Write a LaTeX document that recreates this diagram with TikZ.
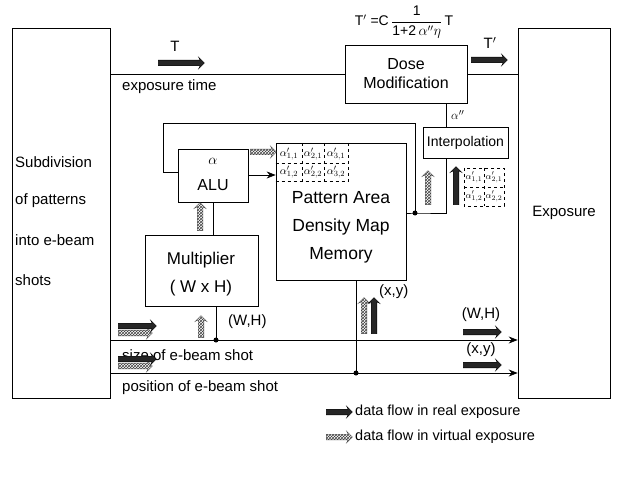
\documentclass[tikz,border=0pt]{standalone}
\usepackage{fontspec}
\setmainfont{Liberation Sans}
\usetikzlibrary{shapes.arrows,patterns,arrows.meta}
\begin{document}
\begin{tikzpicture}[x=1pt,y=-1pt,
  box/.style={draw=black,line width=0.7pt,inner sep=0pt},
  txt/.style={inner sep=0pt,font=\fontsize{15}{18}\selectfont},
  conn/.style={line width=0.7pt},
  tip/.style={-{Stealth[length=9pt,width=7pt,inset=3pt]}},
  fat/.style={single arrow,inner xsep=0pt,inner ysep=2.6pt,single arrow head extend=3pt,single arrow head indent=1.5pt,minimum height=#1,line width=0.4pt},
  realfat/.style={fat=#1,fill=black!85,draw=black},
  virtfat/.style={fat=#1,pattern=crosshatch,pattern color=black!75,draw=black!70},
  gtxt/.style={inner sep=0pt,font=\fontsize{11}{12}\selectfont},
  stxt/.style={inner sep=0pt,font=\fontsize{9.5}{11}\selectfont},
  dot/.style={circle,fill=black,inner sep=0pt,minimum size=5pt}
]
\useasboundingbox (0,0) rectangle (620,486);

% main boxes
\node[box,minimum width=98pt,minimum height=370pt] (L) at (61,213) {};
\node[box,minimum width=92pt,minimum height=370pt,txt] (E) at (564,213) {Exposure};
\node[box,minimum width=122pt,minimum height=58pt,align=center,font=\fontsize{16}{19}\selectfont] (D) at (406,74) {Dose\\Modification};
\node[box,minimum width=70pt,minimum height=53pt] (A) at (213,175.5) {};
\node[box,minimum width=130pt,minimum height=137pt] (P) at (341,211.5) {};
\node[box,minimum width=113pt,minimum height=71pt] (M) at (201.5,270.5) {};
\node[box,minimum width=85pt,minimum height=31pt,font=\fontsize{14}{16}\selectfont] (I) at (465.5,142.5) {Interpolation};

% texts in boxes
\node[txt,anchor=west] (s1) at (15,162) {Subdivision};
\node[txt,anchor=west] (s2) at (15,201) {of patterns};
\node[txt,anchor=west] (s3) at (15,240) {into e-beam};
\node[txt,anchor=west] (s4) at (15,280) {shots};
\node[txt] (at1) at (213,161) {$\alpha$};
\node[txt,font=\fontsize{16}{19}\selectfont] (at2) at (213,185) {ALU};
\node[inner sep=0pt,align=center,font=\fontsize{17.5}{28}\selectfont] (Pt) at (341,227) {Pattern Area\\Density Map\\Memory};
\node[inner sep=0pt,align=center,font=\fontsize{17}{28}\selectfont] (Mt) at (201,274) {Multiplier\\( W x H)};

% formula
\node[inner sep=0pt,font=\fontsize{14}{16}\selectfont] (F) at (404,22) {T$^{\prime}$ =C\,$\displaystyle\frac{\mbox{1}}{\mbox{1+2}\,\alpha''\eta}$\,T};

% grid in pattern memory
\draw[dashed,line width=0.5pt] (P.north west |- 0,163) -- (348,163);
\draw[dashed,line width=0.5pt] (P.north west |- 0,181) -- (348,181);
\draw[dashed,line width=0.5pt] (302,143) -- (302,181);
\draw[dashed,line width=0.5pt] (324,143) -- (324,181);
\draw[dashed,line width=0.5pt] (348,143) -- (348,181);
\node[gtxt] (g11) at (289,154) {$\alpha'_{1,1}$};
\node[gtxt] (g21) at (313,154) {$\alpha'_{2,1}$};
\node[gtxt] (g31) at (336,154) {$\alpha'_{3,1}$};
\node[gtxt] (g12) at (289,172) {$\alpha'_{1,2}$};
\node[gtxt] (g22) at (313,172) {$\alpha'_{2,2}$};
\node[gtxt] (g32) at (336,172) {$\alpha'_{3,2}$};

% small grid near interpolation
\draw[dashed,line width=0.5pt] (464,168) rectangle (504,206);
\draw[dashed,line width=0.5pt] (484,168) -- (484,206);
\draw[dashed,line width=0.5pt] (464,187) -- (504,187);
\node[stxt] (h11) at (474,177.5) {$\alpha'_{1,1}$};
\node[stxt] (h21) at (494,177.5) {$\alpha'_{2,1}$};
\node[stxt] (h12) at (474,196.5) {$\alpha'_{1,2}$};
\node[stxt] (h22) at (494,196.5) {$\alpha'_{2,2}$};

% coordinates
\coordinate (d1) at (216,340);
\coordinate (d2) at (356,373);
\coordinate (d3) at (415,213);
\coordinate (fb1) at (415,123);
\coordinate (fb2) at (163,123);
\coordinate (fb3) at (163,172);
\coordinate (ib) at (446,213);
\coordinate (am) at (213,220);
\coordinate (ra) at (250,175);

% connectors
\draw[conn] (L.east |- D.west) -- (D.west);
\draw[conn] (D.east) -- (E.west |- D.east);
\draw[conn] (D.south -| ib) -- (I.north -| ib);
\draw[conn] (P.east |- d3) -- (d3) -- (ib) -- (I.south -| ib);
\draw[conn] (d3) -- (fb1) -- (fb2) -- (fb3) -- (A.west |- fb3);
\draw[conn] (M.north -| am) -- (A.south -| am);
\draw[conn,tip] (A.east |- ra) -- (P.west |- ra);
\draw[conn,tip] (L.east |- d1) -- (E.west |- d1);
\draw[conn,tip] (L.east |- d2) -- (E.west |- d2);
\draw[conn] (d1) -- (M.south -| d1);
\draw[conn] (d2) -- (P.south -| d2);
\node[dot] (dd1) at (d1) {};
\node[dot] (dd2) at (d2) {};
\node[dot] (dd3) at (d3) {};

% labels
\node[txt] (Tl) at (175,46) {T};
\node[txt,anchor=west] (et) at (122,87) {exposure time};
\node[txt] (Tpl) at (490,43) {T$'$};
\node[txt,anchor=west,font=\fontsize{13}{15}\selectfont] (al) at (451,115) {$\alpha''$};
\node[txt,anchor=west] (wh1) at (228,322) {(W,H)};
\node[txt,anchor=west] (xy1) at (379,292) {(x,y)};
\node[txt] (wh2) at (481,315) {(W,H)};
\node[txt] (xy2) at (481,350) {(x,y)};
\node[txt,anchor=west] (sz) at (122,355) {size of e-beam shot};
\node[txt,anchor=west] (ps) at (122,388) {position of e-beam shot};

% fat arrows
\node[realfat=46pt] (aT) at (180,63) {};
\node[realfat=36pt] (aTp) at (488,60) {};
\node[virtfat=26pt] (aV) at (262,152) {};
\node[virtfat=28pt,rotate=90] (aAM) at (200,218) {};
\node[virtfat=22pt,rotate=90] (aMS) at (201,328) {};
\node[virtfat=36pt,rotate=90] (aPx) at (364,317) {};
\node[realfat=36pt,rotate=90] (aPr) at (374,317) {};
\node[virtfat=34pt,rotate=90] (aIv) at (428,189) {};
\node[realfat=38pt,rotate=90] (aIr) at (456,187) {};
\node[virtfat=34pt] (aS1) at (134,333) {};
\node[realfat=38pt] (aS2) at (136,326) {};
\node[virtfat=34pt] (aP1) at (134,366) {};
\node[realfat=38pt] (aP2) at (136,359) {};
\node[realfat=38pt] (aWH) at (481,332) {};
\node[realfat=38pt] (aXY) at (481,365) {};

% legend
\node[realfat=26pt] (lr) at (338,412) {};
\node[txt,anchor=west,font=\fontsize{14.5}{17}\selectfont] (lrt) at (355,412) {data flow in real exposure};
\node[virtfat=26pt] (lv) at (338,437) {};
\node[txt,anchor=west,font=\fontsize{14.5}{17}\selectfont] (lvt) at (355,437) {data flow in virtual exposure};
\end{tikzpicture}
\end{document}
